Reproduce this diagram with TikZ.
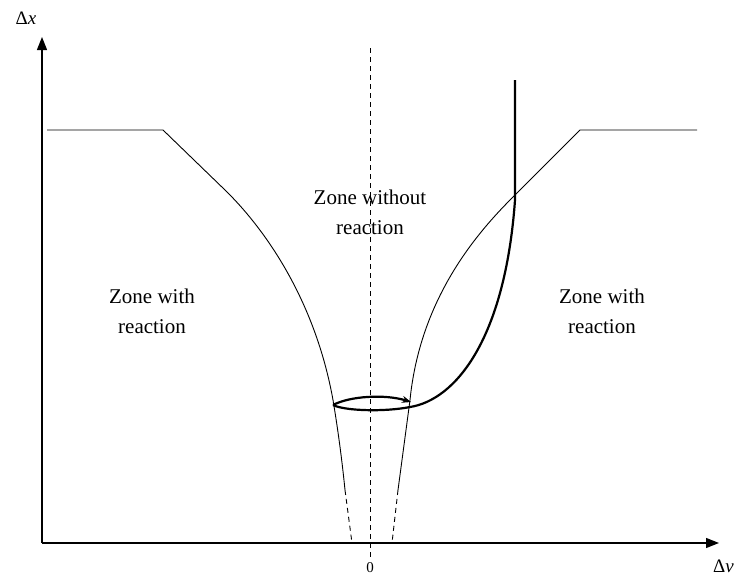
\documentclass[tikz,border=0pt]{standalone}
\usepackage{fontspec}
\setmainfont{Liberation Serif}
\usetikzlibrary{arrows.meta}
\begin{document}
\begin{tikzpicture}[x=1pt,y=-1pt,
  thin curve/.style={line width=0.9pt},
  thick curve/.style={line width=2.2pt},
  dashes/.style={thin curve,dash pattern=on 5pt off 4pt},
  axis/.style={line width=1.3pt,-{Triangle[length=13pt,width=10pt]}},
  zone/.style={font=\fontsize{21}{30}\selectfont,align=center},
  lbl/.style={font=\fontsize{19}{21}\selectfont}]
\useasboundingbox (0,0) rectangle (736,579);
\clip (0,0) rectangle (736,579);
% axes
\coordinate (O) at (42,543);
\coordinate (ytop) at (42,37);
\coordinate (xend) at (719,543);
\draw[axis] (O) -- (ytop);
\draw[axis] (O) -- (xend);
\node[lbl] (dx) at (26,18) {Δ\textit{x}};
\node[lbl,anchor=east,inner sep=0pt] (dv) at (734,566) {Δ\textit{v}};
\node[lbl,font=\fontsize{15}{17}\selectfont] (zero) at (370,568) {0};
% center dashed line
\draw[dashes] (370,48) -- (370,560);
% left boundary
\draw[thin curve] (47,130) -- (163,130) -- (225,190)
  .. controls (265,229) and (315,300) .. (333,400)
  .. controls (338,430) and (342,460) .. (345,490);
\draw[dashes] (345,490) -- (352,543);
% right boundary
\draw[thin curve] (697,130) -- (580,130) -- (512,198)
  .. controls (475,235) and (420,300) .. (410,400)
  .. controls (406,430) and (402,460) .. (398,490);
\draw[dashes] (398,490) -- (392,543);
% thick trajectory
\coordinate (L) at (333,405);
\coordinate (R) at (410,407);
\draw[thick curve,-{Stealth[length=9pt,width=7pt]}] (L) .. controls (350,396) and (385,394) .. (411,402);
\draw[thick curve] (L) .. controls (345,411) and (385,412) .. (R)
  .. controls (455,400) and (505,340) .. (515,200)
  -- (515,80);
% zone labels
\node[zone] (mid) at (370,212) {Zone without\\reaction};
\node[zone] (left) at (152,311) {Zone with\\reaction};
\node[zone] (right) at (602,311) {Zone with\\reaction};
\end{tikzpicture}
\end{document}
